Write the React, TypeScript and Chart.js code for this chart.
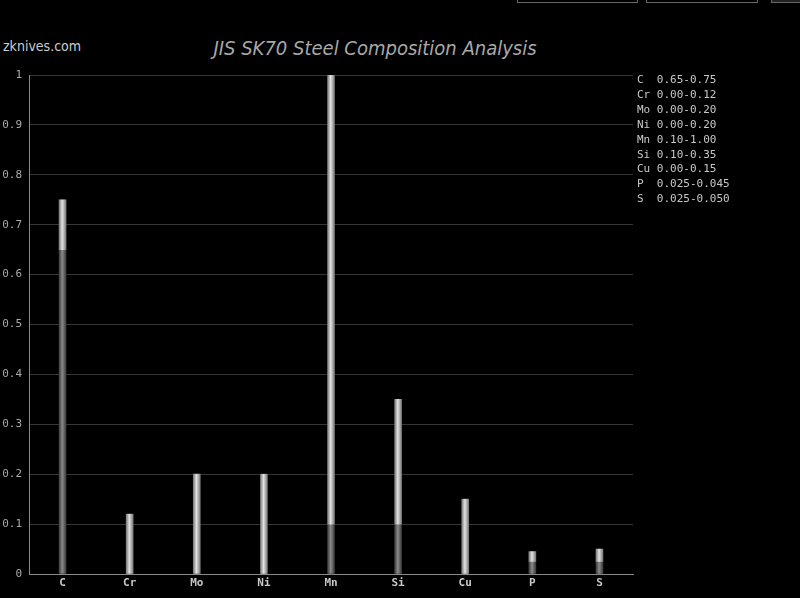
import React, { useEffect, useRef } from "react";
import { Chart, registerables } from "chart.js";

Chart.register(...registerables);

const elements = ["C", "Cr", "Mo", "Ni", "Mn", "Si", "Cu", "P", "S"];
const minVals = [0.65, 0, 0, 0, 0.1, 0.1, 0, 0.025, 0.025];
const maxVals = [0.75, 0.12, 0.2, 0.2, 1.0, 0.35, 0.15, 0.045, 0.05];
const rangeLabels = [
  "0.65-0.75",
  "0.00-0.12",
  "0.00-0.20",
  "0.00-0.20",
  "0.10-1.00",
  "0.10-0.35",
  "0.00-0.15",
  "0.025-0.045",
  "0.025-0.050",
];
const titleText = "JIS SK70 Steel Composition Analysis";
const logoText = "zknives.com";

const MONO = "'DejaVu Sans Mono', monospace";

function makeGradient(c: any, edge: string, mid: string) {
  const chart = c.chart;
  const xs = chart.scales && chart.scales.x;
  if (!xs || !chart.chartArea || c.dataIndex === undefined) return mid;
  const cx = xs.getPixelForValue(c.dataIndex);
  const g = chart.ctx.createLinearGradient(cx - 3.5, 0, cx + 3.5, 0);
  g.addColorStop(0, edge);
  g.addColorStop(0.45, mid);
  g.addColorStop(1, edge);
  return g;
}

const legendPlugin = {
  id: "rangeLegend",
  afterDraw(chart: any) {
    const ctx = chart.ctx;
    ctx.save();
    ctx.font = `11px ${MONO}`;
    ctx.fillStyle = "#c8c8c8";
    ctx.textBaseline = "middle";
    ctx.textAlign = "left";
    elements.forEach((el, i) => {
      const name = (el + "  ").slice(0, 3);
      ctx.fillText(name + rangeLabels[i], 637, 80.5 + i * 14.85);
    });
    ctx.restore();
  },
};

export default function App() {
  const ref = useRef<HTMLCanvasElement | null>(null);
  useEffect(() => {
    if (!ref.current) return;
    const chart = new Chart(ref.current, {
      type: "bar",
      data: {
        labels: elements,
        datasets: [
          {
            label: "min",
            data: minVals,
            grouped: false,
            barThickness: 7,
            borderWidth: 0,
            backgroundColor: (c: any) => makeGradient(c, "#3c3c3c", "#8a8a8a"),
            order: 2,
          } as any,
          {
            label: "range",
            data: elements.map((_, i) => [minVals[i], maxVals[i]]),
            grouped: false,
            barThickness: 7,
            borderWidth: 0,
            backgroundColor: (c: any) => makeGradient(c, "#7a7a7a", "#e2e2e2"),
            order: 1,
          } as any,
        ],
      },
      options: {
        animation: false,
        responsive: false,
        maintainAspectRatio: false,
        layout: { padding: { top: 75, left: 0, right: 167, bottom: 0 } },
        plugins: {
          legend: { display: false },
          title: { display: false },
          tooltip: { enabled: false },
        },
        scales: {
          x: {
            grid: { display: false, drawTicks: false },
            border: { color: "#8a8a8a", width: 1 },
            ticks: {
              color: "#c8c8c8",
              font: { family: MONO, size: 11, weight: "bold" },
              padding: 3,
            },
            afterFit: (s: any) => {
              s.height = 24;
            },
          },
          y: {
            min: 0,
            max: 1,
            ticks: {
              stepSize: 0.1,
              color: "#aaaaaa",
              font: { family: MONO, size: 11 },
              padding: 7,
              callback: (v: any) => String(+Number(v).toFixed(1)),
            },
            grid: { color: "#363636", drawTicks: false, lineWidth: 1 },
            border: { color: "#8a8a8a", width: 1 },
            afterFit: (s: any) => {
              s.width = 29;
            },
          },
        },
      },
      plugins: [legendPlugin],
    });
    return () => chart.destroy();
  }, []);

  return (
    <div
      style={{
        position: "fixed",
        left: 0,
        top: 0,
        width: 800,
        height: 598,
        background: "#000",
        overflow: "hidden",
      }}
    >
      <div style={{ position: "absolute", left: 517, top: -20, width: 119, height: 21, border: "1px solid #666" }} />
      <div style={{ position: "absolute", left: 646, top: -20, width: 110, height: 21, border: "1px solid #666" }} />
      <div style={{ position: "absolute", left: 771, top: -20, width: 40, height: 21, border: "1px solid #666", background: "#222" }} />
      <div
        style={{
          position: "absolute",
          left: 3,
          top: 37,
          fontFamily: "'DejaVu Sans Condensed', 'DejaVu Sans', sans-serif",
          fontSize: 14,
          color: "#cccccc",
          lineHeight: "18px",
        }}
      >
        {logoText}
      </div>
      <div
        style={{
          position: "absolute",
          left: 0,
          width: 750,
          top: 36,
          textAlign: "center",
          fontFamily: "'DejaVu Sans Condensed', 'DejaVu Sans', sans-serif",
          fontStyle: "italic",
          fontSize: 20,
          color: "#a8a8a8",
          lineHeight: "24px",
        }}
      >
        {titleText}
      </div>
      <canvas ref={ref} width={800} height={598} style={{ position: "absolute", left: 0, top: 0 }} />
    </div>
  );
}
